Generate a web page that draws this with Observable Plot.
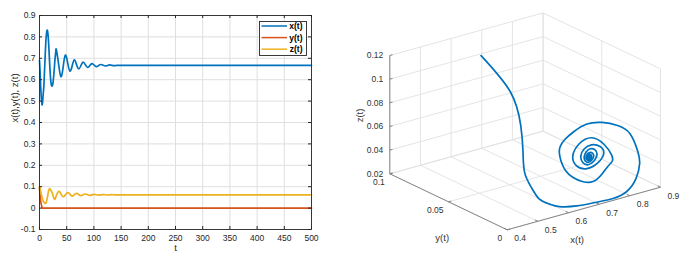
<!DOCTYPE html>
<html><head><meta charset="utf-8">
<script src="https://cdn.jsdelivr.net/npm/d3@7"></script>
<script src="https://cdn.jsdelivr.net/npm/@observablehq/plot@0.6"></script>
<style>
body{margin:0;background:#fff;}
#wrap{position:relative;width:693px;height:257px;display:flex;font-family:"Liberation Sans",Arial,sans-serif;overflow:hidden;}
</style></head><body><div id="wrap"></div>
<script>
// ---- data ----
const tValues = [0,1,2,3,4,5,6,7,8,9,10,11,12,13,14,15,16,17,18,19,20,21,22,23,24,25,26,27,28,29,30,31,
  35,39.3,43.5,47.5,52,56,60,64,68,72,76,80,84.5,88.5,92.5,96.5,100.5,104.5,108.5,112.5,117,121,125,129,133,137,141,
  150,200,250,300,350,400,450,500];
const xValues = [0.69,0.64,0.578,0.528,0.495,0.483,0.505,0.538,0.57,0.627,0.687,0.745,0.79,0.82,0.832,0.825,0.8,0.76,0.71,0.66,0.618,0.588,0.573,0.57,0.575,0.59,0.615,0.645,0.68,0.71,0.733,0.74,
  0.675,0.614,0.66,0.715,0.675,0.64,0.664,0.693,0.671,0.651,0.665,0.682,0.669,0.657,0.666,0.675,0.668,0.661,0.666,0.671,0.6675,0.664,0.6665,0.669,0.6672,0.6655,0.6667,
  0.6667,0.6667,0.6667,0.6667,0.6667,0.6667,0.6667,0.6667];
const yValues = [0.098,0.06,0.035,0.02,0.01,0.001,0,0,0,0,0,0,0,0,0,0,0,0,0,0,0,0,0,0,0,0,0,0,0,0,0,0,
  0,0,0,0,0,0,0,0,0,0,0,0,0,0,0,0,0,0,0,0,0,0,0,0,0,0,0,
  0,0,0,0,0,0,0,0];
const zValues = [0.1,0.091,0.079,0.068,0.057,0.0492,0.0384,0.0318,0.0274,0.0238,0.0224,0.0216,0.0243,0.033,0.0449,0.0564,0.0726,0.0822,0.0884,0.0907,0.0874,0.0828,0.078,0.0731,0.066,0.0564,0.0487,0.0432,0.0406,0.045,0.051,0.059,
  0.078,0.067,0.053,0.062,0.072,0.065,0.056,0.0625,0.069,0.0635,0.058,0.062,0.066,0.0627,0.0595,0.062,0.0645,0.0625,0.0605,0.062,0.0633,0.0623,0.0612,0.062,0.0627,0.0621,0.0617,
  0.062,0.062,0.062,0.062,0.062,0.062,0.062,0.062];
const seriesNames = ["x(t)","y(t)","z(t)"];
const seriesColors = ["#0072BD","#D95319","#EDB120"];
const tTicks = [0,50,100,150,200,250,300,350,400,450,500];
const tTickLabels = ["0","50","100","150","200","250","300","350","400","450","500"];
const vTicks = [-0.1,0,0.1,0.2,0.3,0.4,0.5,0.6,0.7,0.8,0.9];
const vTickLabels = ["-0.1","0","0.1","0.2","0.3","0.4","0.5","0.6","0.7","0.8","0.9"];
const x3Ticks = [0.4,0.5,0.6,0.7,0.8,0.9];
const x3TickLabels = ["0.4","0.5","0.6","0.7","0.8","0.9"];
const y3Ticks = [0,0.05,0.1];
const y3TickLabels = ["0","0.05","0.1"];
const z3Ticks = [0.02,0.04,0.06,0.08,0.1,0.12];
const z3TickLabels = ["0.02","0.04","0.06","0.08","0.1","0.12"];

// ---- tables ----
const rows = tValues.map((t,i)=>({t, x:xValues[i], y:yValues[i], z:zValues[i]}));
const keys = ["x","y","z"];
const curves = ["natural","catmull-rom","natural"];
const font = "'Liberation Sans', Arial, sans-serif";
const H = 257;

// ---- left panel ----
const W1 = 330, mL = 39, mR = 19, mT = 15, mB = 28;
const innerW = W1-mL-mR, innerH = H-mT-mB;
const tLab = new Map(tTicks.map((d,i)=>[d,tTickLabels[i]]));
const vLab = new Map(vTicks.map((d,i)=>[d,vTickLabels[i]]));
const axisColor = "#262626";
const left = Plot.plot({
  width: W1, height: H, marginLeft: mL, marginRight: mR, marginTop: mT, marginBottom: mB,
  style: {fontFamily: font, fontSize: "8.5px", color: axisColor, background: "#fff", overflow: "visible"},
  x: {domain: [0,500]}, y: {domain: [-0.1,0.9]},
  marks: [
    Plot.gridX(tTicks, {stroke: "#dfdfdf", strokeOpacity: 1}),
    Plot.gridY(vTicks, {stroke: "#dfdfdf", strokeOpacity: 1}),
    ...keys.map((k,i)=>Plot.line(rows, {x: "t", y: k, stroke: seriesColors[i], strokeWidth: 1.7, curve: curves[i]})),
    Plot.frame({stroke: axisColor, strokeWidth: 0.9}),
    Plot.tickX(tTicks, {x: d=>d, insetTop: innerH-3, stroke: axisColor}),
    Plot.tickX(tTicks, {x: d=>d, insetBottom: innerH-3, stroke: axisColor}),
    Plot.tickY(vTicks, {y: d=>d, insetRight: innerW-3, stroke: axisColor}),
    Plot.tickY(vTicks, {y: d=>d, insetLeft: innerW-3, stroke: axisColor}),
    Plot.axisX(tTicks, {tickSize: 0, tickPadding: 5, tickFormat: d=>tLab.get(d), label: null, fill: axisColor}),
    Plot.axisY(vTicks, {tickSize: 0, tickPadding: 4, tickFormat: d=>vLab.get(d), label: null, fill: axisColor}),
    Plot.text(["t"], {frameAnchor: "bottom", dy: 21, fontSize: 9.5, fill: axisColor}),
    Plot.text(["x(t),y(t), z(t)"], {frameAnchor: "left", dx: -25, rotate: -90, fontSize: 9.5, fill: axisColor})
  ]
});

// ---- right panel (orthographic 3-D view) ----
const W2 = 363, off = 330;
const O = [506.7-off, 229.3];           // screen position of (x=0.4, y=0, z=0.02)
const ex = [153.3,-42.6], ey = [-117.4,-56], ez = [0,-118.3]; // screen span of each axis
const xr = [0.4,0.9], yr = [0,0.1], zr = [0.02,0.12];
function proj(x,y,z){
  const a=(x-xr[0])/(xr[1]-xr[0]), b=(y-yr[0])/(yr[1]-yr[0]), c=(z-zr[0])/(zr[1]-zr[0]);
  return [O[0]+a*ex[0]+b*ey[0]+c*ez[0], O[1]+a*ex[1]+b*ey[1]+c*ez[1]];
}
const seg = (p,q)=>{const A=proj(...p), B=proj(...q); return {x1:A[0],y1:A[1],x2:B[0],y2:B[1]};};
const grid = [];
z3Ticks.forEach(z=>grid.push(seg([xr[0],yr[1],z],[xr[1],yr[1],z])));
x3Ticks.forEach(x=>grid.push(seg([x,yr[1],zr[0]],[x,yr[1],zr[1]])));
z3Ticks.forEach(z=>grid.push(seg([xr[1],yr[0],z],[xr[1],yr[1],z])));
y3Ticks.forEach(y=>grid.push(seg([xr[1],y,zr[0]],[xr[1],y,zr[1]])));
x3Ticks.forEach(x=>grid.push(seg([x,yr[0],zr[0]],[x,yr[1],zr[0]])));
y3Ticks.forEach(y=>grid.push(seg([xr[0],y,zr[0]],[xr[1],y,zr[0]])));
const axes = [
  seg([xr[0],yr[1],zr[0]],[xr[0],yr[1],zr[1]]),
  seg([xr[0],yr[0],zr[0]],[xr[0],yr[1],zr[0]]),
  seg([xr[0],yr[0],zr[0]],[xr[1],yr[0],zr[0]])
];
const ticks3 = [
  ...z3Ticks.map(z=>seg([xr[0],yr[1],z],[xr[0]+0.009,yr[1],z])),
  ...y3Ticks.map(y=>seg([xr[0],y,zr[0]],[xr[0]+0.009,y,zr[0]])),
  ...x3Ticks.map(x=>seg([x,yr[0],zr[0]],[x,yr[0]+0.0025,zr[0]]))
];
const zLab = z3Ticks.map((z,i)=>({p:proj(xr[0],yr[1],z), s:z3TickLabels[i]}));
const yLab = y3Ticks.map((y,i)=>({p:proj(xr[0],y,zr[0]), s:y3TickLabels[i]}));
const xLab = x3Ticks.map((x,i)=>({p:proj(x,yr[0],zr[0]), s:x3TickLabels[i]}));
const px = d=>d.p[0], py = d=>d.p[1];
const traj = rows.map(r=>proj(r.x,r.y,r.z));
const lab3 = "#333";
const right = Plot.plot({
  width: W2, height: H, margin: 0,
  style: {fontFamily: font, fontSize: "8.5px", background: "#fff", overflow: "visible"},
  x: {domain: [0,W2], range: [0,W2], axis: null},
  y: {domain: [0,H], range: [0,H], axis: null},
  marks: [
    Plot.link(grid, {x1:"x1", y1:"y1", x2:"x2", y2:"y2", stroke: "#e1e1e1", strokeWidth: 0.9}),
    Plot.link(axes, {x1:"x1", y1:"y1", x2:"x2", y2:"y2", stroke: "#7a7a7a", strokeWidth: 0.9}),
    Plot.link(ticks3, {x1:"x1", y1:"y1", x2:"x2", y2:"y2", stroke: "#7a7a7a", strokeWidth: 0.9}),
    Plot.line(traj, {x: d=>d[0], y: d=>d[1], stroke: seriesColors[0], strokeWidth: 1.7, curve: "natural"}),
    Plot.text(zLab, {x: px, y: py, text: "s", textAnchor: "end", dx: -6.5, fill: lab3}),
    Plot.text(yLab, {x: px, y: py, text: "s", textAnchor: "end", dx: -5, dy: 8.7, fill: lab3}),
    Plot.text(xLab, {x: px, y: py, text: "s", textAnchor: "start", dx: 7, dy: 8.7, fill: lab3}),
    Plot.text([{p:proj((xr[0]+xr[1])/2,yr[0],zr[0]), s:"x(t)"}], {x: px, y: py, text: "s", dx: -6.7, dy: 31.3, fontSize: 9.5, fill: lab3}),
    Plot.text([{p:proj(xr[0],(yr[0]+yr[1])/2,zr[0]), s:"y(t)"}], {x: px, y: py, text: "s", dx: -6.3, dy: 36, fontSize: 9.5, fill: lab3}),
    Plot.text([{p:proj(xr[0],yr[1],(zr[0]+zr[1])/2), s:"z(t)"}], {x: px, y: py, text: "s", dx: -30.3, dy: 0.8, rotate: -90, fontSize: 9.5, fill: lab3})
  ]
});

const wrap = document.getElementById("wrap");
wrap.appendChild(left);
wrap.appendChild(right);

// ---- legend of the left panel ----
const leg = d3.select(wrap).append("svg")
  .style("position","absolute").style("left","259px").style("top","21px")
  .attr("width",48).attr("height",35)
  .style("font-family", font);
leg.append("rect").attr("x",0.5).attr("y",0.5).attr("width",47).attr("height",34)
  .attr("fill","#fff").attr("stroke",axisColor).attr("stroke-width",0.9);
seriesNames.forEach((n,i)=>{
  const cy = 5 + i*11.6;
  leg.append("line").attr("x1",2.5).attr("x2",28).attr("y1",cy).attr("y2",cy)
    .attr("stroke",seriesColors[i]).attr("stroke-width",1.5);
  leg.append("text").attr("x",43.5).attr("y",cy).attr("dy","0.35em").attr("text-anchor","end")
    .attr("font-size","8.5px").attr("font-weight","bold").attr("fill","#000").text(n);
});
</script></body></html>
